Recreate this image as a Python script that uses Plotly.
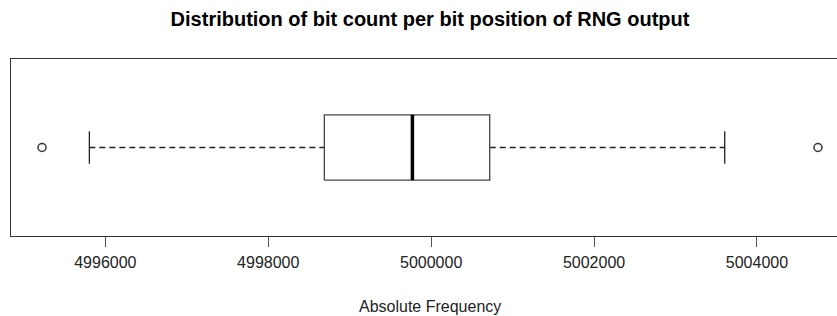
import plotly.graph_objects as go

# ---- data ----
stat_names = ["lower whisker", "Q1", "median", "Q3", "upper whisker"]
stat_values = [4995804, 4998689, 4999770, 5000719, 5003604]
outlier_values = [4995223, 5004749]
tick_values = [4996000, 4998000, 5000000, 5002000, 5004000]
tick_labels = ["4996000", "4998000", "5000000", "5002000", "5004000"]
title_text = "Distribution of bit count per bit position of RNG output"
x_title = "Absolute Frequency"

lw, q1, med, q3, uw = stat_values

# ---- style / geometry ----
W, H = 837, 316
ML, MR, MT, MB = 11, 0, 59, 80
FONT = "Liberation Sans, Arial, Helvetica, sans-serif"
LINE = "#222222"
pos = 1.0
half_box = 0.1845
half_cap = 0.092

# R-style axis extent: data range +/- 4 %, plot is cropped on the right
lo = min(stat_values + outlier_values)
hi = max(stat_values + outlier_values)
pad = 0.04 * (hi - lo)
full_lo, full_hi = lo - pad, hi + pad
full_px = 838.0
vis_px = W - ML - MR
x_range = [full_lo, full_lo + (full_hi - full_lo) * vis_px / full_px]
center_value = (full_lo + full_hi) / 2
center_px = ML + full_px / 2

fig = go.Figure()

# dashed whiskers
fig.add_trace(go.Scatter(
    x=[lw, q1, None, q3, uw], y=[pos, pos, None, pos, pos],
    mode="lines", line=dict(color=LINE, width=1.3, dash="6px,4px"),
    hoverinfo="skip", showlegend=False))
# whisker caps
fig.add_trace(go.Scatter(
    x=[lw, lw, None, uw, uw],
    y=[pos - half_cap, pos + half_cap, None, pos - half_cap, pos + half_cap],
    mode="lines", line=dict(color=LINE, width=1.3),
    hoverinfo="skip", showlegend=False))
# box
fig.add_trace(go.Scatter(
    x=[q1, q3, q3, q1, q1],
    y=[pos - half_box, pos - half_box, pos + half_box, pos + half_box, pos - half_box],
    mode="lines", fill="toself", fillcolor="white",
    line=dict(color="#444444", width=1.3),
    hoverinfo="skip", showlegend=False))
# median
fig.add_trace(go.Scatter(
    x=[med, med], y=[pos - half_box, pos + half_box],
    mode="lines", line=dict(color="black", width=3.5),
    hoverinfo="skip", showlegend=False))
# outliers
fig.add_trace(go.Scatter(
    x=outlier_values, y=[pos] * len(outlier_values),
    mode="markers",
    marker=dict(symbol="circle-open", size=8, color="#333333", line=dict(width=1.5)),
    hoverinfo="skip", showlegend=False))

fig.update_layout(
    width=W, height=H,
    margin=dict(l=ML, r=MR, t=MT, b=MB),
    paper_bgcolor="white", plot_bgcolor="white",
    font=dict(family=FONT, size=16, color="#222222"),
    title=dict(text="<b>" + title_text + "</b>",
               font=dict(family=FONT, size=20, color="black"),
               x=center_px / W, xref="container", xanchor="center",
               y=1 - 19 / H, yref="container", yanchor="middle"),
    xaxis=dict(range=x_range, tickvals=tick_values, ticktext=tick_labels,
               ticks="outside", ticklen=10, tickwidth=1.3, tickcolor="#555555",
               ticklabelstandoff=2,
               showline=True, linecolor="#333333", linewidth=1.3, mirror=True,
               showgrid=False, zeroline=False,
               tickfont=dict(family=FONT, size=16, color="#222222")),
    yaxis=dict(range=[0.5, 1.5], showticklabels=False, ticks="",
               showline=True, linecolor="#333333", linewidth=1.3, mirror=False,
               showgrid=False, zeroline=False),
    annotations=[dict(text=x_title, xref="x", x=center_value,
                      yref="paper", y=-(306 - 236) / (H - MT - MB),
                      yanchor="middle", xanchor="center", showarrow=False,
                      font=dict(family=FONT, size=16, color="#222222"))],
)

fig.write_html("out.html",
               config={"displayModeBar": False},
               post_script="document.body.style.margin='0px';"
                           "document.body.style.overflow='hidden';")
